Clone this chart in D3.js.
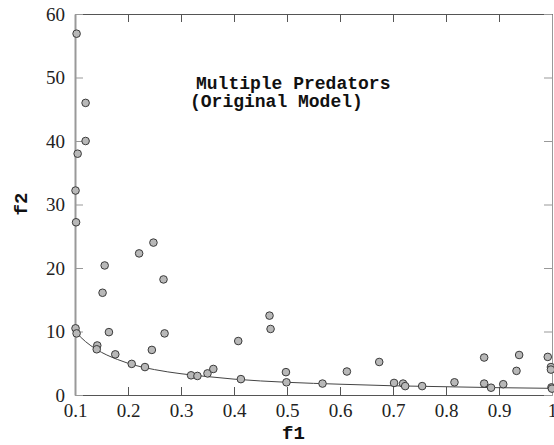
<!DOCTYPE html>
<html>
<head>
<meta charset="utf-8">
<script src="https://cdn.jsdelivr.net/npm/d3@7"></script>
<style>
  body { margin: 0; background: #fff; }
  .lbl { font-family: "Liberation Mono", "DejaVu Sans Mono", monospace; font-weight: bold; fill: #111; }
</style>
</head>
<body>
<div id="chart"></div>
<script>
// scattered solutions (f1, f2)
const f1 = [0.103, 0.120, 0.120, 0.105, 0.101, 0.102,
  0.156, 0.152, 0.221, 0.248, 0.267, 0.164, 0.269, 0.101, 0.103,
  0.142, 0.141, 0.176, 0.245, 0.207, 0.232, 0.319, 0.331,
  0.350, 0.361, 0.408, 0.413, 0.467, 0.469, 0.498, 0.499, 0.567, 0.613, 0.674,
  0.702, 0.719, 0.723, 0.755, 0.816, 0.872, 0.872, 0.885, 0.908,
  0.938, 0.933, 0.992, 0.998, 0.998, 0.999, 1.0];
const f2 = [56.9, 46.0, 40.0, 38.0, 32.2, 27.2,
  20.4, 16.1, 22.3, 24.0, 18.2, 9.9, 9.7, 10.5, 9.7,
  7.8, 7.2, 6.4, 7.1, 4.9, 4.4, 3.1, 3.0,
  3.4, 4.1, 8.5, 2.5, 12.5, 10.4, 3.6, 2.0, 1.8, 3.7, 5.2,
  1.9, 1.8, 1.4, 1.4, 2.0, 5.9, 1.8, 1.15, 1.7,
  6.3, 3.8, 6.0, 4.4, 4.0, 1.2, 1.0];

// fitted front
const curveX = [0.1, 0.12, 0.14, 0.16, 0.18, 0.2, 0.25, 0.3, 0.35, 0.4, 0.5, 0.6, 0.7, 0.8, 0.9, 1.0];
const curveY = [10.0, 8.4, 7.2, 6.3, 5.6, 5.0, 4.0, 3.35, 2.9, 2.5, 2.0, 1.7, 1.45, 1.3, 1.15, 1.05];

const xTicks = [0.1, 0.2, 0.3, 0.4, 0.5, 0.6, 0.7, 0.8, 0.9, 1];
const yTicks = [0, 10, 20, 30, 40, 50, 60];

const margin = {top: 14, right: 2, bottom: 50, left: 75};
const W = 554, H = 445;
const width = W - margin.left - margin.right;
const height = H - margin.top - margin.bottom;

const svg = d3.select("#chart").append("svg")
  .attr("width", W)
  .attr("height", H)
  .append("g")
  .attr("transform", "translate(" + margin.left + "," + margin.top + ")");

const x = d3.scaleLinear().domain([0.1, 1]).range([0, width]);
const y = d3.scaleLinear().domain([0, 60]).range([height, 0]);

function serifText(sel) {
  sel.style("font-family", "Liberation Serif")
    .style("font-size", "19px")
    .attr("fill", "#222");
}

// bottom axis
const xa = svg.append("g")
  .attr("transform", "translate(0," + height + ")")
  .call(d3.axisBottom(x).tickValues(xTicks).tickSize(-8).tickSizeOuter(0).tickPadding(9)
    .tickFormat(d => d === 1 ? "1" : d3.format(".1f")(d)));
xa.selectAll("line, path").attr("stroke", "#555");
xa.selectAll("text").call(serifText);

// top axis (no labels)
const xt = svg.append("g")
  .call(d3.axisTop(x).tickValues(xTicks).tickSize(-8).tickSizeOuter(0).tickFormat(""));
xt.selectAll("line, path").attr("stroke", "#555");

// left axis
const ya = svg.append("g")
  .call(d3.axisLeft(y).tickValues(yTicks).tickSize(-8).tickSizeOuter(0).tickPadding(10));
ya.selectAll("line, path").attr("stroke", "#999");
ya.select("path").attr("stroke-width", 2);
ya.selectAll("text").call(serifText);

// right axis
const yr = svg.append("g")
  .attr("transform", "translate(" + width + ",0)")
  .call(d3.axisRight(y).tickValues(yTicks).tickSize(-8).tickSizeOuter(0).tickFormat(""));
yr.selectAll("line, path").attr("stroke", "#999");

// curve
svg.append("path")
  .datum(curveX.map((d, i) => [d, curveY[i]]))
  .attr("fill", "none")
  .attr("stroke", "#444")
  .attr("stroke-width", 1)
  .attr("d", d3.line().x(d => x(d[0])).y(d => y(d[1])).curve(d3.curveMonotoneX));

// points
svg.selectAll("circle.pt")
  .data(f1.map((d, i) => [d, f2[i]]))
  .join("circle")
  .attr("class", "pt")
  .attr("cx", d => x(d[0]))
  .attr("cy", d => y(d[1]))
  .attr("r", 3.8)
  .attr("fill", "#b8b8b8")
  .attr("stroke", "#3a3a3a")
  .attr("stroke-width", 1);

// title
svg.append("text").attr("class", "lbl")
  .attr("x", 121).attr("y", 75)
  .style("font-size", "18px")
  .text("Multiple Predators");
svg.append("text").attr("class", "lbl")
  .attr("x", 115).attr("y", 93)
  .style("font-size", "18px")
  .text("(Original Model)");

// axis labels
svg.append("text").attr("class", "lbl")
  .attr("x", width / 2 - 20).attr("y", height + 44)
  .attr("text-anchor", "middle")
  .style("font-size", "19px")
  .text("f1");

svg.append("text").attr("class", "lbl")
  .attr("transform", "rotate(-90)")
  .attr("x", -190).attr("y", -48)
  .attr("text-anchor", "middle")
  .style("font-size", "19px")
  .text("f2");
</script>
</body>
</html>
